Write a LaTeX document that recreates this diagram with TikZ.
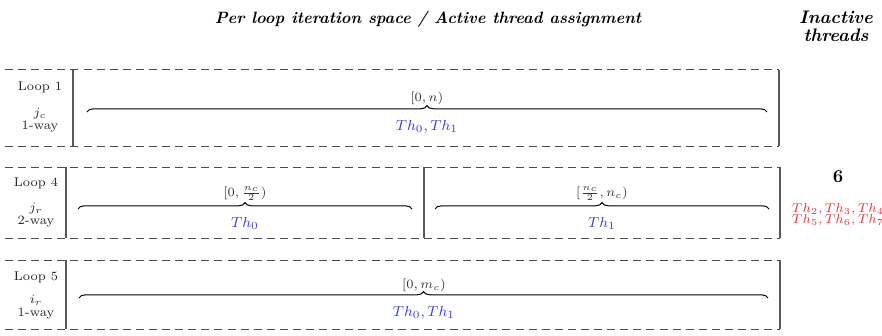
\documentclass[tikz,border=0pt]{standalone}
\usetikzlibrary{decorations.pathreplacing}
\definecolor{thblue}{RGB}{60,60,225}
\definecolor{thred}{RGB}{240,50,50}
\begin{document}
\begin{tikzpicture}[x=0.55pt,y=-0.55pt,
  dashline/.style={draw=black!70,line width=0.55pt,dash pattern=on 4.4pt off 2.8pt},
  sideline/.style={draw=black!65,line width=0.7pt},
  bracepath/.style={draw=black,line width=0.55pt,decorate,decoration={brace,amplitude=3.5pt}},
  looplbl/.style={font=\scriptsize,text=black!85,inner sep=0pt},
  rangelbl/.style={font=\scriptsize,text=black!80,inner sep=0pt,anchor=south},
  thlbl/.style={font=\footnotesize,text=thblue,inner sep=0pt},
  headlbl/.style={font=\bfseries\itshape,inner sep=0pt,align=center}]
\useasboundingbox (0,0) rectangle (882,336);
% headers
\node[headlbl,font=\fontsize{9}{11}\selectfont\bfseries\itshape] (title) at (428,19) {Per loop iteration space / Active thread assignment};
\node[headlbl] (inact) at (836,26) {Inactive\\[-2pt]threads};
% ---------- Row 1
\coordinate (r1tl) at (5,70); \coordinate (r1tr) at (779,70);
\coordinate (r1bl) at (5,146); \coordinate (r1br) at (779,146);
\draw[dashline] (r1tl) -- (r1tr);
\draw[dashline] (r1bl) -- (r1br);
\draw[sideline] (73,70) -- (73,146);
\draw[sideline] (r1tr) -- (r1br);
\node[looplbl] (l1) at (40,87) {Loop 1};
\node[looplbl,align=center] (l1b) at (40,120) {$j_c$\\[-1pt]1-way};
\coordinate (b1s) at (87,112); \coordinate (b1e) at (767,112);
\draw[bracepath] (b1s) -- (b1e);
\node[rangelbl] (rg1) at (427,105) {$[0,n)$};
\node[thlbl] (th1) at (427,127) {$Th_0, Th_1$};
% ---------- Row 2
\coordinate (r2tl) at (5,167); \coordinate (r2tr) at (780,167);
\coordinate (r2bl) at (5,238); \coordinate (r2br) at (780,238);
\draw[dashline] (r2tl) -- (r2tr);
\draw[dashline] (r2bl) -- (r2br);
\draw[sideline] (66,167) -- (66,238);
\draw[sideline] (424,167) -- (424,238);
\draw[sideline] (r2tr) -- (r2br);
\node[looplbl] (l4) at (36,183) {Loop 4};
\node[looplbl,align=center] (l4b) at (36,215) {$j_r$\\[-1pt]2-way};
\coordinate (b2s) at (78,209); \coordinate (b2e) at (412,209);
\draw[bracepath] (b2s) -- (b2e);
\node[rangelbl] (rg2) at (245,201) {$[0,\frac{n_c}{2})$};
\node[thlbl] (th2) at (245,223) {$Th_0$};
\coordinate (b3s) at (435,209); \coordinate (b3e) at (769,209);
\draw[bracepath] (b3s) -- (b3e);
\node[rangelbl] (rg3) at (602,201) {$[\frac{n_c}{2},n_c)$};
\node[thlbl] (th3) at (602,223) {$Th_1$};
\node[font=\bfseries,inner sep=0pt] (six) at (838,177) {6};
\node[font=\scriptsize,text=thred,inner sep=0pt,align=center] (red) at (838,215) {$Th_2, Th_3, Th_4$\\[-2pt]$Th_5, Th_6, Th_7$};
% ---------- Row 3
\coordinate (r3tl) at (5,260); \coordinate (r3tr) at (780,260);
\coordinate (r3bl) at (5,329); \coordinate (r3br) at (780,329);
\draw[dashline] (r3tl) -- (r3tr);
\draw[dashline] (r3bl) -- (r3br);
\draw[sideline] (66,260) -- (66,329);
\draw[sideline] (r3tr) -- (r3br);
\node[looplbl] (l5) at (36,277) {Loop 5};
\node[looplbl,align=center] (l5b) at (36,307) {$i_r$\\[-1pt]1-way};
\coordinate (b4s) at (79,298); \coordinate (b4e) at (768,298);
\draw[bracepath] (b4s) -- (b4e);
\node[rangelbl] (rg4) at (424,292) {$[0,m_c)$};
\node[thlbl] (th4) at (424,313) {$Th_0, Th_1$};
\end{tikzpicture}
\end{document}
